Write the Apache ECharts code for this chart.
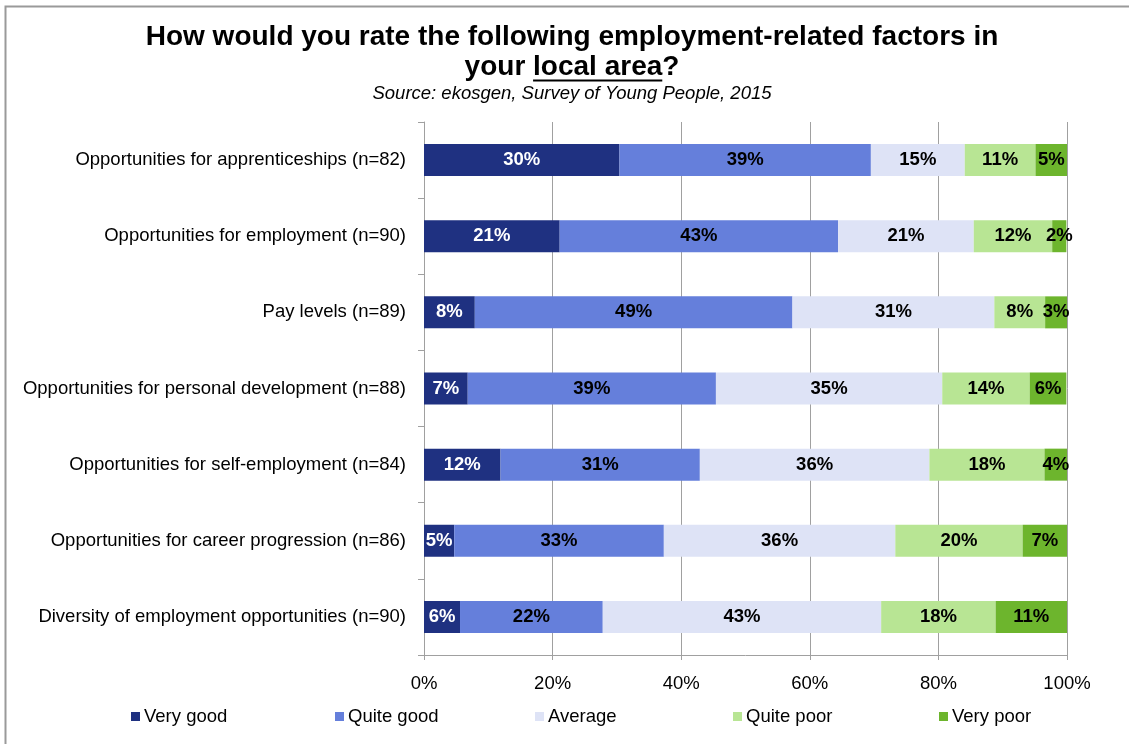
<!DOCTYPE html>
<html>
<head>
<meta charset="utf-8">
<title>Employment-related factors in your local area</title>
<script src="https://cdn.jsdelivr.net/npm/echarts@6/dist/echarts.min.js"></script>
<style>
  html, body { margin: 0; padding: 0; background: #fff; }
  #chart { width: 1129px; height: 744px; }
</style>
</head>
<body>
<div id="chart"></div>
<script>
// Survey rows, top to bottom
const categories = [
  'Opportunities for apprenticeships (n=82)',
  'Opportunities for employment (n=90)',
  'Pay levels (n=89)',
  'Opportunities for personal development (n=88)',
  'Opportunities for self-employment (n=84)',
  'Opportunities for career progression (n=86)',
  'Diversity of employment opportunities (n=90)'
];

// Share of respondents (%) per rating, one value per row
const veryGood  = [30.4, 21.1,  7.9,  6.8, 11.9,  4.7,  5.6];
const quiteGood = [39.1, 43.3, 49.4, 38.6, 31.0, 32.6, 22.2];
const average   = [14.6, 21.1, 31.4, 35.2, 35.7, 36.0, 43.3];
const quitePoor = [11.0, 12.2,  7.9, 13.6, 17.9, 19.8, 17.8];
const veryPoor  = [ 4.9,  2.2,  3.4,  5.7,  3.6,  7.0, 11.1];

const ratingNames = ['Very good', 'Quite good', 'Average', 'Quite poor', 'Very poor'];
const ratingColors = ['#1F3181', '#657FDB', '#DEE3F6', '#B8E594', '#6DB52D'];
const ratingLabelColors = ['#FFFFFF', '#000000', '#000000', '#000000', '#000000'];
const ratingValues = [veryGood, quiteGood, average, quitePoor, veryPoor];

const xTicks = [0, 20, 40, 60, 80, 100];

const FONT = '"Liberation Sans", Arial, sans-serif';
const TEXT_SIZE = 18.5;
const TITLE_SIZE = 28;

const chart = echarts.init(document.getElementById('chart'), null, { renderer: 'canvas' });

// Title line 2 has an underlined phrase; measure pieces to place it
const ctx = document.createElement('canvas').getContext('2d');
ctx.font = 'bold ' + TITLE_SIZE + 'px ' + FONT;
const partA = 'your ', partB = 'local area', partC = '?';
const wA = ctx.measureText(partA).width;
const wB = ctx.measureText(partB).width;
const wC = ctx.measureText(partC).width;
const cx = 572;
const line2Start = cx - (wA + wB + wC) / 2;
const titleFont = 'bold ' + TITLE_SIZE + 'px ' + FONT;

const series = ratingNames.map((name, i) => ({
  name: name,
  type: 'bar',
  stack: 'total',
  barWidth: 32,
  data: ratingValues[i],
  itemStyle: { color: ratingColors[i] },
  label: {
    show: true,
    position: 'inside',
    color: ratingLabelColors[i],
    fontFamily: FONT,
    fontWeight: 'bold',
    fontSize: TEXT_SIZE,
    formatter: p => Math.round(p.value) + '%'
  },
  emphasis: { disabled: true }
}));

const legendLefts = [126, 330, 530, 728, 934];
const legends = ratingNames.map((name, i) => ({
  data: [name],
  left: legendLefts[i],
  top: 702,
  itemWidth: 9,
  itemHeight: 9,
  itemGap: 0,
  icon: 'rect',
  textStyle: { fontFamily: FONT, fontSize: TEXT_SIZE, color: '#000', padding: [0, 0, 0, -1] },
  selectedMode: false
}));

chart.setOption({
  animation: false,
  backgroundColor: '#fff',
  legend: legends,
  grid: { left: 424, right: 62, top: 122, bottom: 89, containLabel: false },
  xAxis: {
    type: 'value',
    min: 0,
    max: 100,
    interval: 20,
    axisLine: { show: true, lineStyle: { color: '#A0A0A0', width: 1 } },
    axisTick: { show: true, length: 5, lineStyle: { color: '#A0A0A0' } },
    splitLine: { show: true, lineStyle: { color: '#A0A0A0', width: 1 } },
    axisLabel: {
      margin: 19,
      fontFamily: FONT,
      fontSize: TEXT_SIZE,
      color: '#000',
      formatter: v => (xTicks.includes(v) ? v + '%' : '')
    }
  },
  yAxis: {
    type: 'category',
    inverse: true,
    data: categories,
    axisLine: { show: true, lineStyle: { color: '#A0A0A0', width: 1 } },
    axisTick: { show: true, length: 6, alignWithLabel: false, lineStyle: { color: '#A0A0A0' } },
    axisLabel: { margin: 18, fontFamily: FONT, fontSize: TEXT_SIZE, color: '#000' }
  },
  series: series,
  graphic: [
    {
      type: 'rect',
      silent: true,
      shape: { x: 5.5, y: 6.5, width: 1300, height: 900 },
      style: { fill: 'none', stroke: '#9A9A9A', lineWidth: 2 }
    },
    {
      type: 'text',
      x: cx, y: 37,
      style: {
        text: 'How would you rate the following employment-related factors in',
        font: titleFont,
        fill: '#000',
        align: 'center',
        verticalAlign: 'middle'
      }
    },
    {
      type: 'text',
      x: line2Start, y: 67,
      style: { text: partA, font: titleFont, fill: '#000', align: 'left', verticalAlign: 'middle' }
    },
    {
      type: 'text',
      x: line2Start + wA, y: 67,
      style: { text: partB, font: titleFont, fill: '#000', align: 'left', verticalAlign: 'middle' }
    },
    {
      type: 'line',
      shape: { x1: line2Start + wA, y1: 80.5, x2: line2Start + wA + wB, y2: 80.5 },
      style: { stroke: '#000', lineWidth: 2 }
    },
    {
      type: 'text',
      x: line2Start + wA + wB, y: 67,
      style: { text: partC, font: titleFont, fill: '#000', align: 'left', verticalAlign: 'middle' }
    },
    {
      type: 'text',
      x: cx, y: 94,
      style: {
        text: 'Source: ekosgen, Survey of Young People, 2015',
        font: 'italic ' + TEXT_SIZE + 'px ' + FONT,
        fill: '#000',
        align: 'center',
        verticalAlign: 'middle'
      }
    }
  ]
});
</script>
</body>
</html>
